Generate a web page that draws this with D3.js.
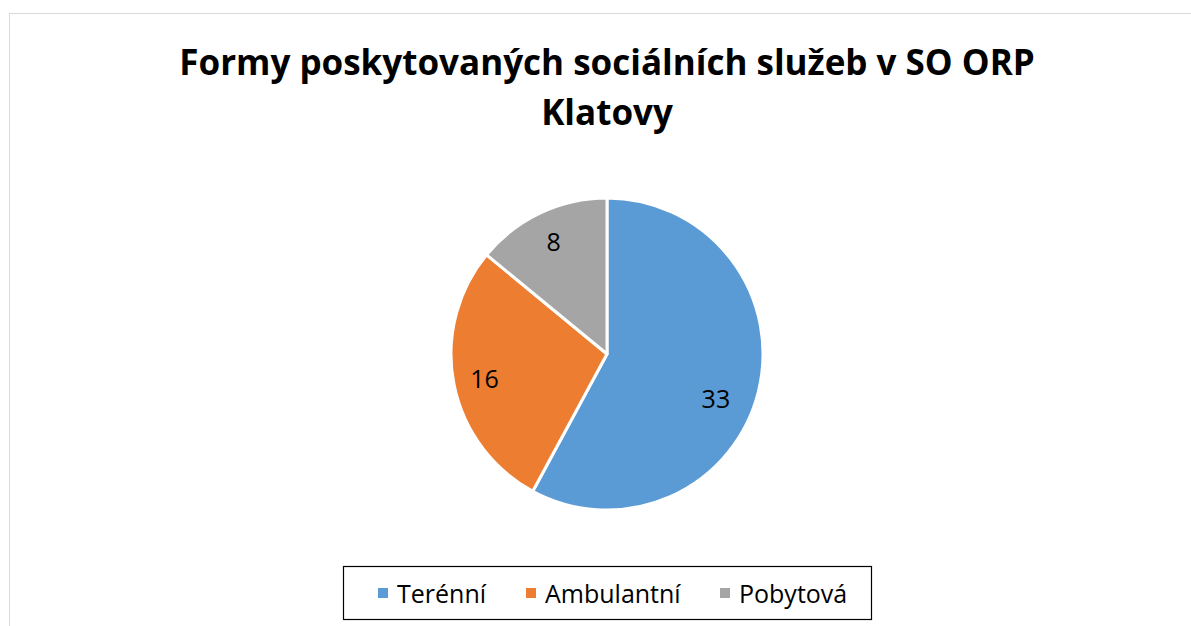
<!DOCTYPE html>
<html>
<head>
<meta charset="utf-8">
<script src="https://cdn.jsdelivr.net/npm/d3@7"></script>
<style>
  body { margin: 0; background: #fff; }
  svg { display: block; font-family: "Open Sans", "Noto Sans", sans-serif; }
</style>
</head>
<body>
<div id="chart"></div>
<script>
// Formy poskytovaných sociálních služeb – počty služeb podle formy
const categories = ['Terénní', 'Ambulantní', 'Pobytová'];
const values = [33, 16, 8];
const colors = ['#5B9BD5', '#ED7D31', '#A5A5A5'];
const titleLines = ['Formy poskytovaných sociálních služeb v SO ORP', 'Klatovy'];

const width = 1191;
const height = 626;
const svg = d3.select('#chart').append('svg')
  .attr('width', width)
  .attr('height', height);

// chart area frame (right/bottom edges fall just outside the window)
svg.append('rect')
  .attr('x', 9.5).attr('y', 13.5)
  .attr('width', 1190).attr('height', 620)
  .attr('fill', '#fff')
  .attr('stroke', '#D9D9D9')
  .attr('stroke-width', 1);

// title
const title = svg.append('text')
  .attr('text-anchor', 'middle')
  .attr('font-weight', 700)
  .attr('font-size', 35)
  .attr('fill', '#000');
title.selectAll('tspan')
  .data(titleLines)
  .join('tspan')
  .attr('x', 607)
  .attr('y', (d, i) => 75 + i * 50)
  .text((d) => d);

// pie
const cx = 607;
const cy = 354;
const radius = 156;
const pie = d3.pie().sort(null).value((d) => d);
const arc = d3.arc().innerRadius(0).outerRadius(radius);
const labelArc = d3.arc().innerRadius(radius * 0.8).outerRadius(radius * 0.8);
const color = d3.scaleOrdinal().domain(categories).range(colors);

const g = svg.append('g').attr('transform', `translate(${cx},${cy})`);
const slices = pie(values);

g.selectAll('path')
  .data(slices)
  .join('path')
  .attr('d', arc)
  .attr('fill', (d, i) => color(categories[i]))
  .attr('stroke', '#fff')
  .attr('stroke-width', 3)
  .attr('stroke-linejoin', 'round');

g.selectAll('text')
  .data(slices)
  .join('text')
  .attr('transform', (d) => {
    const [x, y] = labelArc.centroid(d);
    // the big slice label sits a bit lower and further in, as best-fit puts it
    return d.index === 0 ? `translate(${x * 0.9},${y + 13})` : `translate(${x},${y})`;
  })
  .attr('text-anchor', 'middle')
  .attr('dominant-baseline', 'central')
  .attr('font-size', 25)
  .attr('fill', '#000')
  .text((d) => d.value);

// legend
const legend = svg.append('g');
legend.append('rect')
  .attr('x', 343.5).attr('y', 566.5)
  .attr('width', 528).attr('height', 53)
  .attr('fill', '#fff')
  .attr('stroke', '#000')
  .attr('stroke-width', 1.2);

const legendX = d3.scaleOrdinal().domain(categories).range([378, 526, 720]);
const items = legend.selectAll('g.item')
  .data(categories)
  .join('g')
  .attr('class', 'item')
  .attr('transform', (d) => `translate(${legendX(d)},593)`);
items.append('rect')
  .attr('x', 0).attr('y', -5)
  .attr('width', 10).attr('height', 10)
  .attr('fill', (d) => color(d));
items.append('text')
  .attr('x', 19)
  .attr('y', 0)
  .attr('dominant-baseline', 'central')
  .attr('font-size', 25)
  .attr('fill', '#000')
  .text((d) => d);
</script>
</body>
</html>
